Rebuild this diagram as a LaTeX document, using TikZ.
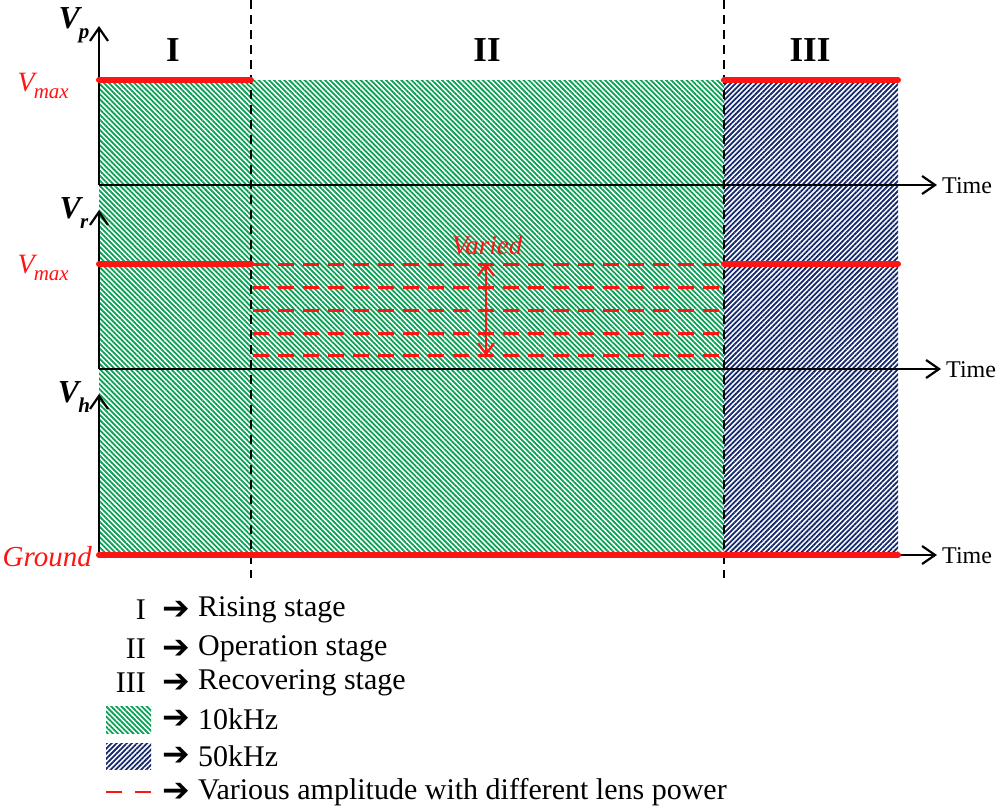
\documentclass[tikz,border=0pt]{standalone}
\usepackage{fontspec}
\setmainfont{Liberation Serif}
\newfontfamily\symfont{DejaVu Sans}
\usetikzlibrary{patterns.meta,arrows.meta}
\definecolor{hgreen}{RGB}{10,160,85}
\definecolor{hblue}{RGB}{20,40,110}
\definecolor{lred}{RGB}{255,20,20}
\newcommand{\fs}[1]{\fontsize{#1}{#1}\selectfont}
\newcommand{\vlab}[1]{\fs{32}\bfseries\itshape V\kern-1pt\raisebox{-0.3em}{\fs{21}#1}}
\newcommand{\vmaxlab}{\fs{28}\itshape V\kern-1pt\raisebox{-0.28em}{\fs{21}max}}
\begin{document}
\begin{tikzpicture}[x=1pt,y=-1pt,
  greenfill/.style={pattern={Lines[angle=-45,distance=3.6pt,line width=1.8pt]},pattern color=hgreen},
  bluefill/.style={pattern={Lines[angle=45,distance=3.6pt,line width=1.8pt]},pattern color=hblue},
  tip/.style={-{Straight Barb[length=13pt,width=18pt,line width=2.2pt]}},
  axisline/.style={draw=black,line width=2pt},
  redline/.style={draw=lred,line width=6pt,line cap=round},
  reddash/.style={draw=lred,line width=3pt,dash pattern=on 16pt off 9pt},
  sep/.style={draw=black,line width=1.2pt,dash pattern=on 9pt off 6pt},
  lbl/.style={inner sep=0pt,font=\fs{30}},
  timelbl/.style={inner sep=0pt,anchor=west,font=\fs{24}},
  stage/.style={inner sep=0pt,font=\fs{35}\bfseries},
  redlbl/.style={inner sep=0pt,text=lred},
  arr/.style={inner sep=0pt,font=\symfont\bfseries\fs{33}},
  dtip/.style={{Straight Barb[length=11pt,width=16pt,line width=2.2pt]}-{Straight Barb[length=11pt,width=16pt,line width=2.2pt]}},
]
\useasboundingbox (0,0) rectangle (1000,809);

% hatched regions
\path[greenfill] (99,80) rectangle (724,555);
\path[bluefill] (724,80) rectangle (898,555);

% stage separators
\coordinate (s1t) at (251,0); \coordinate (s1b) at (251,578);
\coordinate (s2t) at (724,0); \coordinate (s2b) at (724,578);
\draw[sep] (s1t) -- (s1b);
\draw[sep] (s2t) -- (s2b);

% axes coordinates
\coordinate (op) at (99,185); \coordinate (yp) at (99,26); \coordinate (tp) at (937,185);
\coordinate (or) at (99,369); \coordinate (yr) at (99,210); \coordinate (tr) at (941,369);
\coordinate (oh) at (99,555); \coordinate (yh) at (99,394); \coordinate (th) at (937,555);

\draw[axisline,tip] (op) -- (yp);
\draw[axisline,tip] (op) -- (tp);
\draw[axisline,tip] (or) -- (yr);
\draw[axisline,tip] (or) -- (tr);
\draw[axisline,tip] (oh) -- (yh);
\draw[axisline,tip] (oh) -- (th);

% axis labels
\node[lbl] (vp) at (74,25) {\vlab{p}};
\node[lbl] (vr) at (74,213) {\vlab{r}};
\node[lbl] (vh) at (74,397) {\vlab{h}};
\node[timelbl] (t1) at (942,186) {Time};
\node[timelbl] (t2) at (946,370) {Time};
\node[timelbl] (t3) at (942,556) {Time};

% stage labels
\node[stage] (sI) at (173,50) {I};
\node[stage] (sII) at (487,50) {II};
\node[stage] (sIII) at (810,50) {III};

% red levels, top plot
\coordinate (pa) at (99,80); \coordinate (pb) at (251,80);
\coordinate (pc) at (724,80); \coordinate (pd) at (898,80);
\draw[redline] (pa) -- (pb);
\draw[redline] (pc) -- (pd);

% red levels, middle plot
\coordinate (ra) at (99,264); \coordinate (rb) at (251,264);
\coordinate (rc) at (724,264); \coordinate (rd) at (898,264);
\draw[redline] (ra) -- (rb);
\draw[redline] (rc) -- (rd);
\foreach \yy in {264,287,310,333,355}{
  \draw[reddash] (253,\yy) -- (724,\yy);
}
\coordinate (va) at (486,263); \coordinate (vb) at (486,356);
\draw[draw=lred,line width=2.2pt,dtip] (va) -- (vb);
\node[redlbl,font=\fs{27}\itshape] (varied) at (487,245) {Varied};

% ground
\coordinate (ga) at (99,555); \coordinate (gb) at (898,555);
\draw[redline] (ga) -- (gb);

% left labels
\node[redlbl,anchor=east] (vm1) at (69,86) {\vmaxlab};
\node[redlbl,anchor=east] (vm2) at (69,268) {\vmaxlab};
\node[redlbl,anchor=east,font=\fs{29}\itshape] (gnd) at (92,557) {Ground};

% legend
\node[lbl,anchor=east] (l1) at (146,610) {I};
\node[lbl,anchor=east] (l2) at (146,649) {II};
\node[lbl,anchor=east] (l3) at (146,683) {III};
\path[greenfill] (106,706) rectangle (151,733);
\path[bluefill] (106,743) rectangle (151,769);
\coordinate (d1) at (106,792); \coordinate (d2) at (151,792);
\draw[draw=lred,line width=2.5pt,dash pattern=on 16pt off 13pt] (d1) -- (d2);
\foreach \yy/\nm in {610/a1,649/a2,683/a3,719/a4,756/a5,792/a6}{
  \node[arr] (\nm) at (176,\yy) {➔};
}
\node[lbl,anchor=west] (e1) at (198,610) {Rising stage};
\node[lbl,anchor=west] (e2) at (198,649) {Operation stage};
\node[lbl,anchor=west] (e3) at (198,683) {Recovering stage};
\node[lbl,anchor=west] (e4) at (198,719) {10kHz};
\node[lbl,anchor=west] (e5) at (198,756) {50kHz};
\node[lbl,anchor=west] (e6) at (198,792) {Various amplitude with different lens power};
\end{tikzpicture}
\end{document}
